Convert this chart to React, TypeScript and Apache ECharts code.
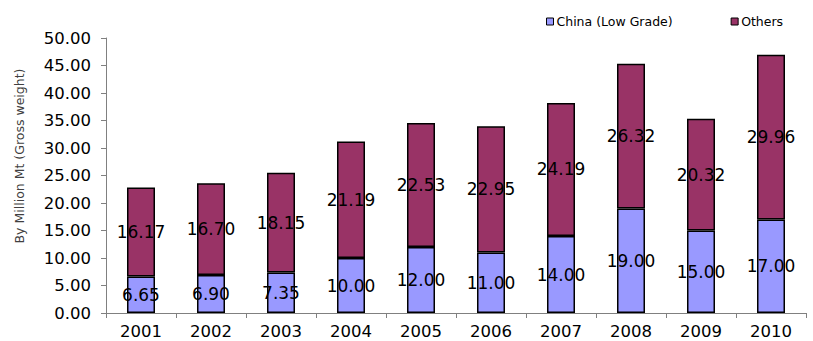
import React, { useEffect, useRef } from "react";
import * as echarts from "echarts";

const years = ["2001", "2002", "2003", "2004", "2005", "2006", "2007", "2008", "2009", "2010"];
const chinaLowGrade = [6.65, 6.9, 7.35, 10.0, 12.0, 11.0, 14.0, 19.0, 15.0, 17.0];
const others = [16.17, 16.7, 18.15, 21.19, 22.53, 22.95, 24.19, 26.32, 20.32, 29.96];
const yAxisTitle = "By Million Mt (Gross weight)";

export default function App() {
  const ref = useRef<HTMLDivElement>(null);
  useEffect(() => {
    const chart = echarts.init(ref.current!, null, { renderer: "svg" });
    const font = "DejaVu Sans, sans-serif";
    const label = {
      show: true,
      position: "inside" as const,
      color: "#000",
      fontSize: 17,
      fontFamily: font,
      formatter: (p: any) => Number(p.value).toFixed(2),
    };
    chart.setOption({
      animation: false,
      textStyle: { fontFamily: font },
      legend: {
        top: 10,
        left: 541,
        itemGap: 58,
        itemWidth: 7,
        itemHeight: 7,
        icon: "rect",
        textStyle: { fontSize: 12.5, color: "#000", fontFamily: font, padding: [0, 0, 0, -2] },
        data: [
          { name: "China (Low Grade)", itemStyle: { borderColor: "#000", borderWidth: 1 } },
          { name: "Others", itemStyle: { borderColor: "#000", borderWidth: 1 } },
        ],
      },
      graphic: [
        {
          type: "text",
          x: 19,
          y: 156,
          rotation: Math.PI / 2,
          style: {
            text: yAxisTitle,
            fontSize: 12.5,
            fontFamily: font,
            fill: "#404040",
            align: "center",
            verticalAlign: "middle",
          },
        },
      ],
      grid: { left: 106, right: 7, top: 38, bottom: 28 },
      xAxis: {
        type: "category",
        data: years,
        axisLine: { lineStyle: { color: "#808080", width: 1 } },
        axisTick: { show: true, alignWithLabel: false, length: 5, lineStyle: { color: "#808080" } },
        axisLabel: { color: "#000", fontSize: 16.5, fontFamily: font, margin: 10 },
      },
      yAxis: {
        type: "value",
        min: 0,
        max: 50,
        interval: 5,
        axisLine: { show: true, lineStyle: { color: "#808080", width: 1 } },
        axisTick: { show: true, length: 5, lineStyle: { color: "#808080" } },
        splitLine: { show: false },
        axisLabel: {
          color: "#000",
          fontSize: 16.5,
          fontFamily: font,
          margin: 15,
          formatter: (v: number) => v.toFixed(2),
        },
      },
      series: [
        {
          name: "China (Low Grade)",
          type: "bar",
          stack: "total",
          data: chinaLowGrade,
          barWidth: 28,
          itemStyle: { color: "#9999FF", borderColor: "#000", borderWidth: 1.5 },
          label,
        },
        {
          name: "Others",
          type: "bar",
          stack: "total",
          data: others,
          barWidth: 28,
          itemStyle: { color: "#993366", borderColor: "#000", borderWidth: 1.5 },
          label,
        },
      ],
    });
    return () => chart.dispose();
  }, []);
  return (
    <div
      ref={ref}
      style={{ position: "absolute", left: 0, top: 0, width: 813, height: 341, background: "#fff" }}
    />
  );
}
